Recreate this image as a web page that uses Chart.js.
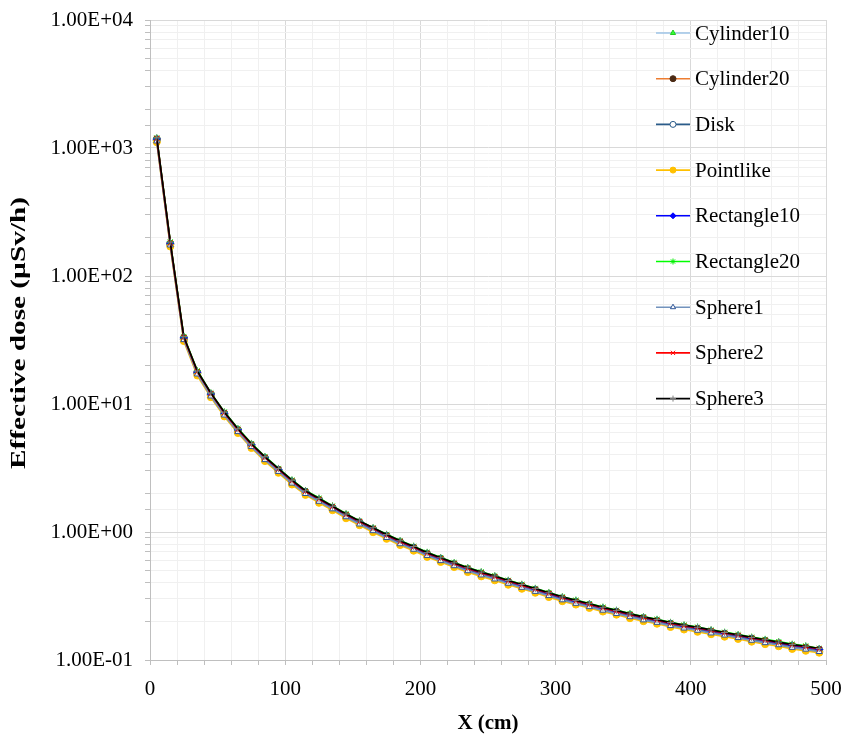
<!DOCTYPE html>
<html>
<head>
<meta charset="utf-8">
<script src="https://cdn.jsdelivr.net/npm/chart.js@4.4.0/dist/chart.umd.min.js"></script>
<style>
  body { margin: 0; background: #fff; }
  #wrap { width: 843px; height: 734px; }
</style>
</head>
<body>
<div id="wrap"><canvas id="grafico" width="843" height="734"></canvas></div>
<script>
// distance in cm
const xCm = [5, 15, 25, 35, 45, 55, 65, 75, 85, 95,
  105, 115, 125, 135, 145, 155, 165, 175, 185, 195,
  205, 215, 225, 235, 245, 255, 265, 275, 285, 295,
  305, 315, 325, 335, 345, 355, 365, 375, 385, 395,
  405, 415, 425, 435, 445, 455, 465, 475, 485, 495];

// effective dose (uSv/h)
const cylinder10 = [1160, 177, 32.3, 17.4, 11.8, 8.34, 6.18, 4.72, 3.73, 3.02,
  2.45, 2.03, 1.76, 1.54, 1.33, 1.18, 1.04, 0.921, 0.823, 0.745,
  0.666, 0.608, 0.555, 0.507, 0.469, 0.437, 0.404, 0.375, 0.349, 0.323,
  0.300, 0.282, 0.266, 0.249, 0.235, 0.221, 0.210, 0.200, 0.189, 0.180,
  0.173, 0.166, 0.159, 0.152, 0.145, 0.139, 0.133, 0.127, 0.123, 0.119];
const cylinder20 = [1170, 179, 32.7, 17.6, 11.9, 8.42, 6.25, 4.77, 3.77, 3.05,
  2.48, 2.05, 1.78, 1.55, 1.35, 1.19, 1.05, 0.931, 0.832, 0.752,
  0.673, 0.614, 0.560, 0.512, 0.474, 0.442, 0.408, 0.379, 0.352, 0.327,
  0.303, 0.285, 0.268, 0.251, 0.238, 0.224, 0.212, 0.202, 0.191, 0.182,
  0.175, 0.167, 0.160, 0.153, 0.147, 0.141, 0.135, 0.129, 0.125, 0.120];
const disk = [1140, 176, 32.0, 17.3, 11.6, 8.25, 6.12, 4.68, 3.70, 2.99,
  2.43, 2.01, 1.75, 1.52, 1.32, 1.16, 1.03, 0.912, 0.815, 0.737,
  0.660, 0.601, 0.549, 0.501, 0.465, 0.433, 0.400, 0.372, 0.345, 0.320,
  0.297, 0.279, 0.263, 0.246, 0.233, 0.219, 0.208, 0.198, 0.187, 0.178,
  0.172, 0.164, 0.157, 0.150, 0.144, 0.138, 0.132, 0.126, 0.122, 0.117];
const pointlike = [1110, 170, 31.0, 16.7, 11.3, 8.00, 5.93, 4.53, 3.58, 2.90,
  2.35, 1.95, 1.69, 1.48, 1.28, 1.13, 0.996, 0.884, 0.790, 0.714,
  0.639, 0.583, 0.532, 0.486, 0.450, 0.419, 0.387, 0.360, 0.335, 0.310,
  0.288, 0.271, 0.255, 0.239, 0.226, 0.212, 0.201, 0.192, 0.181, 0.173,
  0.166, 0.159, 0.152, 0.146, 0.139, 0.133, 0.128, 0.122, 0.118, 0.114];
const rectangle10 = [1180, 181, 33.0, 17.8, 12.0, 8.51, 6.31, 4.82, 3.81, 3.08,
  2.50, 2.07, 1.80, 1.57, 1.36, 1.20, 1.06, 0.940, 0.840, 0.760,
  0.680, 0.620, 0.566, 0.517, 0.479, 0.446, 0.412, 0.383, 0.356, 0.330,
  0.306, 0.288, 0.271, 0.254, 0.240, 0.226, 0.214, 0.204, 0.193, 0.184,
  0.177, 0.169, 0.162, 0.155, 0.148, 0.142, 0.136, 0.130, 0.126, 0.121];
const rectangle20 = [1200, 185, 33.7, 18.2, 12.2, 8.68, 6.44, 4.92, 3.89, 3.14,
  2.55, 2.11, 1.84, 1.60, 1.39, 1.22, 1.08, 0.959, 0.857, 0.775,
  0.694, 0.632, 0.577, 0.527, 0.489, 0.455, 0.420, 0.391, 0.363, 0.337,
  0.312, 0.294, 0.276, 0.259, 0.245, 0.231, 0.218, 0.208, 0.197, 0.188,
  0.181, 0.172, 0.165, 0.158, 0.151, 0.145, 0.139, 0.133, 0.129, 0.123];
const sphere1 = [1130, 174, 31.7, 17.1, 11.5, 8.17, 6.06, 4.63, 3.66, 2.96,
  2.40, 1.99, 1.73, 1.51, 1.31, 1.15, 1.02, 0.902, 0.806, 0.730,
  0.653, 0.595, 0.543, 0.496, 0.460, 0.428, 0.396, 0.368, 0.342, 0.317,
  0.294, 0.276, 0.260, 0.244, 0.230, 0.217, 0.205, 0.196, 0.185, 0.177,
  0.170, 0.162, 0.156, 0.149, 0.142, 0.136, 0.131, 0.125, 0.121, 0.116];
const sphere2 = [1190, 182, 33.2, 17.9, 12.1, 8.55, 6.34, 4.84, 3.83, 3.10,
  2.51, 2.08, 1.81, 1.58, 1.37, 1.21, 1.07, 0.945, 0.844, 0.764,
  0.683, 0.623, 0.569, 0.520, 0.481, 0.448, 0.414, 0.385, 0.358, 0.332,
  0.308, 0.289, 0.272, 0.255, 0.241, 0.227, 0.215, 0.205, 0.194, 0.185,
  0.178, 0.170, 0.163, 0.156, 0.149, 0.143, 0.137, 0.131, 0.127, 0.122];
const sphere3 = [1200, 184, 33.5, 18.1, 12.2, 8.64, 6.40, 4.89, 3.87, 3.13,
  2.54, 2.10, 1.83, 1.59, 1.38, 1.22, 1.08, 0.954, 0.853, 0.771,
  0.690, 0.629, 0.574, 0.525, 0.486, 0.453, 0.418, 0.389, 0.361, 0.335,
  0.311, 0.292, 0.275, 0.258, 0.244, 0.229, 0.217, 0.207, 0.196, 0.187,
  0.180, 0.172, 0.164, 0.157, 0.150, 0.144, 0.138, 0.132, 0.128, 0.123];

const seriesNames = ["Cylinder10", "Cylinder20", "Disk", "Pointlike", "Rectangle10",
  "Rectangle20", "Sphere1", "Sphere2", "Sphere3"];
const seriesValues = [cylinder10, cylinder20, disk, pointlike, rectangle10,
  rectangle20, sphere1, sphere2, sphere3];

const xTickLabels = [0, 100, 200, 300, 400, 500];
const yTickLabels = [0.1, 1, 10, 100, 1000, 10000];
const yTitle = "Effective dose (µSv/h)";

// line colour, marker style, marker fill, marker border
const looks = [
  { line: "#9dc3e6", style: "triangle", fill: "#33ff33", border: "#22cc22" },
  { line: "#ed7d31", style: "circle", fill: "#4a2a14", border: "#4a2a14" },
  { line: "#2b5c8a", style: "circle", fill: "#ffffff", border: "#2b5c8a" },
  { line: "#ffc000", style: "circle", fill: "#ffc000", border: "#ffc000" },
  { line: "#0000ff", style: "rectRot", fill: "#0000ff", border: "#0000ff" },
  { line: "#00ff00", style: "star", fill: "#00ff00", border: "#00ee00" },
  { line: "#7393bd", style: "triangle", fill: "#ffffff", border: "#2f5597" },
  { line: "#ff0000", style: "crossRot", fill: "#ff0000", border: "#ff0000" },
  { line: "#000000", style: "cross", fill: "#808080", border: "#808080" }
];

const fontFam = "'Liberation Serif', 'Times New Roman', serif";

function sciLabel(v) {
  const e = Math.round(Math.log10(v));
  const sign = e < 0 ? "-" : "+";
  const digits = String(Math.abs(e)).padStart(2, "0");
  return "1.00E" + sign + digits;
}

const datasets = seriesNames.map((name, i) => ({
  label: name,
  data: xCm.map((x, k) => ({ x: x, y: seriesValues[i][k] })),
  borderColor: looks[i].line,
  backgroundColor: looks[i].fill,
  pointStyle: looks[i].style,
  pointBackgroundColor: looks[i].fill,
  pointBorderColor: looks[i].border,
  pointRadius: 3.5,
  pointBorderWidth: 1,
  borderWidth: 1.7,
  tension: 0,
  order: seriesNames.length - 1 - i
}));

// legend drawn inside the plot area, top right, plus the stretched y title
const extras = {
  id: "extras",
  afterDraw(chart) {
    const ctx = chart.ctx;
    const area = chart.chartArea;
    const x0 = area.right - 170;
    const x1 = area.right - 136;
    const tx = area.right - 131;
    ctx.save();
    seriesNames.forEach((name, i) => {
      const y = area.top + 13 + i * 45.7;
      ctx.strokeStyle = looks[i].line;
      ctx.lineWidth = 1.6;
      ctx.beginPath();
      ctx.moveTo(x0, y);
      ctx.lineTo(x1, y);
      ctx.stroke();
      ctx.fillStyle = looks[i].fill;
      ctx.strokeStyle = looks[i].border;
      ctx.lineWidth = 1;
      Chart.helpers.drawPoint(ctx, { pointStyle: looks[i].style, radius: 3, borderWidth: 1, rotation: 0 }, (x0 + x1) / 2, y);
      ctx.fillStyle = "#000";
      ctx.font = "21px " + fontFam;
      ctx.textAlign = "left";
      ctx.textBaseline = "middle";
      ctx.fillText(name, tx, y + 1);
    });
    ctx.restore();

    ctx.save();
    ctx.translate(19, (area.top + area.bottom) / 2 - 7);
    ctx.rotate(-Math.PI / 2);
    ctx.scale(1.33, 1);
    ctx.fillStyle = "#000";
    ctx.font = "bold 22px " + fontFam;
    ctx.textAlign = "center";
    ctx.textBaseline = "middle";
    ctx.fillText(yTitle, 0, 0);
    ctx.restore();
  }
};

new Chart(document.getElementById("grafico").getContext("2d"), {
  type: "line",
  data: { datasets: datasets },
  options: {
    responsive: false,
    animation: false,
    layout: { padding: { left: 0, top: 20, right: 17, bottom: 0 } },
    plugins: {
      legend: { display: false },
      tooltip: { enabled: false }
    },
    scales: {
      x: {
        type: "linear",
        min: 0,
        max: 500,
        afterFit(scale) {
          scale.height = 74;
          scale.paddingLeft = 0;
          scale.paddingRight = 0;
        },
        ticks: {
          stepSize: 20,
          autoSkip: false,
          maxRotation: 0,
          padding: 12,
          color: "#000",
          font: { family: fontFam, size: 21 },
          callback: v => xTickLabels.includes(v) ? String(v) : ""
        },
        grid: {
          color: c => (c.tick && c.tick.value % 100 === 0) ? "#d9d9d9" : "#f0f0f0",
          tickColor: "#bfbfbf",
          tickLength: 5,
          lineWidth: 1
        },
        border: { color: "#bfbfbf", width: 1 },
        title: {
          display: true,
          text: "X (cm)",
          color: "#000",
          font: { family: fontFam, size: 21, weight: "bold" },
          padding: { top: 0, bottom: -2 }
        }
      },
      y: {
        type: "logarithmic",
        min: 0.1,
        max: 10000,
        afterFit(scale) {
          scale.width = 150;
          scale.paddingTop = 0;
          scale.paddingBottom = 0;
        },
        ticks: {
          autoSkip: false,
          padding: 12,
          color: "#000",
          font: { family: fontFam, size: 21 },
          callback: v => yTickLabels.some(t => Math.abs(t - v) < t * 1e-6) ? sciLabel(v) : ""
        },
        grid: {
          color: c => {
            if (!c.tick) return "#f0f0f0";
            const l = Math.log10(c.tick.value);
            return Math.abs(l - Math.round(l)) < 1e-6 ? "#d9d9d9" : "#f0f0f0";
          },
          tickColor: "#bfbfbf",
          tickLength: 5,
          lineWidth: 1
        },
        border: { color: "#bfbfbf", width: 1 },
        title: { display: false }
      }
    }
  },
  plugins: [extras]
});
</script>
</body>
</html>
